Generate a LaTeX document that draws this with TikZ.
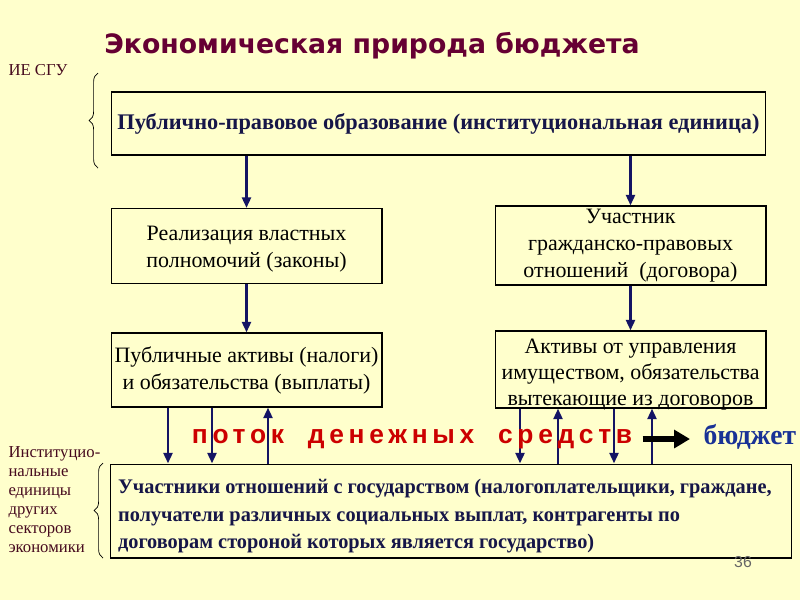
\documentclass[tikz,border=0pt]{standalone}
\usepackage{fontspec}
\setmainfont{Liberation Serif}
\newfontfamily\titlefont{DejaVu Sans}
\newfontfamily\condserif{Liberation Serif}[FakeStretch=0.98]
\newfontfamily\flowfont{Liberation Sans}[LetterSpace=18]
\newfontfamily\numfont{Liberation Sans}
\usetikzlibrary{positioning,arrows.meta,decorations.pathreplacing}
\definecolor{paper}{RGB}{255,255,204}
\definecolor{maroon}{RGB}{102,0,51}
\definecolor{navy}{RGB}{22,22,72}
\definecolor{arrowink}{RGB}{20,20,100}
\definecolor{flowred}{RGB}{204,0,0}
\definecolor{budgetblue}{RGB}{25,50,150}
\definecolor{labelink}{RGB}{70,10,30}
% lower a block of lines inside its box
\newcommand{\lowered}[3]{\raisebox{-#1}[\height][\depth]{\parbox{#2}{#3}}}

\begin{document}
\begin{tikzpicture}[x=0.02cm, y=-0.02cm, line width=0.6pt,
   box/.style={draw=black, fill=paper, inner sep=0pt, align=center,
     font=\fontsize{12.5}{15.4}\selectfont},
   boldbox/.style={box, text=navy, font=\bfseries\fontsize{12.7}{15.6}\selectfont},
   arr/.style={draw=arrowink, line width=1.6pt, -{Triangle[length=6pt, width=5pt]}},
   bigarr/.style={draw=black, line width=3pt, -{Triangle[length=9pt, width=10pt]}},
   side/.style={text=labelink, anchor=west, align=left, inner sep=0pt,
     font=\fontsize{9.5}{10.8}\selectfont},
   curly/.style={draw=black, line width=0.4pt, decorate, decoration={brace, amplitude=5}}]
  \fill[paper] (0,0) rectangle (800,600);
  \useasboundingbox (0,0) rectangle (800,600);
  % title and side labels
  \node[text=maroon, font=\titlefont\bfseries\fontsize{15.2}{18}\selectfont] (title) at (372,46) {Экономическая природа бюджета};
  \node[side] (ie) at (8,70) {ИЕ СГУ};
  \node[side] (other) at (8,500) {Институцио-\\нальные\\единицы\\других\\секторов\\экономики};
  % boxes
  \node[boldbox, minimum width=13.1cm, minimum height=1.26cm] (top) at (438.5,123.5)
    {Публично-правовое образование (институциональная единица)};
  \node[box, minimum width=5.42cm, minimum height=1.5cm] (law) at (246.5,246)
    {\lowered{2pt}{5.4cm}{\centering Реализация властных\\полномочий (законы)}};
  \node[box, minimum width=5.42cm, minimum height=1.58cm] (civil) at (630.5,245.5)
    {Участник\\гражданско-правовых\\отношений~ (договора)};
  \node[box, minimum width=5.42cm, minimum height=1.48cm] (pubassets) at (246.5,370)
    {Публичные активы (налоги)\\и обязательства (выплаты)};
  \node[box, minimum width=5.42cm, minimum height=1.54cm, font=\fontsize{12.5}{14.8}\selectfont] (propassets) at (630.5,369.5)
    {\lowered{3pt}{5.4cm}{\centering Активы от управления\\имуществом, обязательства\\вытекающие из договоров}};
  \node[boldbox, minimum width=13.64cm, minimum height=1.88cm,
    font=\condserif\bfseries\fontsize{11.8}{15.6}\selectfont] (parties) at (451,511)
    {\lowered{3pt}{13.32cm}{\raggedright Участники отношений с государством (налогоплательщики, граждане,\\получатели различных социальных выплат, контрагенты по\\договорам стороной которых является государство)}};
  % vertical connectors
  \draw[arr] (top.south -| law.north) -- (law.north);
  \draw[arr] (top.south -| civil.north) -- (civil.north);
  \draw[arr] (law) -- (pubassets);
  \draw[arr] (civil) -- (propassets);
  \foreach \x in {168,212} \draw[arr] (pubassets.south -| \x,0) -- (parties.north -| \x,0);
  \draw[arr] (parties.north -| 268,0) -- (pubassets.south -| 268,0);
  \foreach \x in {520,614} \draw[arr] (propassets.south -| \x,0) -- (parties.north -| \x,0);
  \foreach \x in {558,652} \draw[arr] (parties.north -| \x,0) -- (propassets.south -| \x,0);
  % money flow
  \node[text=flowred, inner sep=0pt, font=\flowfont\bfseries\fontsize{15}{17}\selectfont] (flow) at (412,439)
    {поток\hspace{0.9em}денежных\hspace{0.9em}средств};
  \node[text=budgetblue, anchor=west, inner sep=0pt, font=\condserif\bfseries\fontsize{16}{18}\selectfont] (budget) at (703,437) {бюджет};
  \draw[bigarr, shorten <=10*0.02cm, shorten >=13*0.02cm] (flow.east) -- (budget.west |- flow.east);
  % braces
  \draw[curly] (98,168) -- (98,73);
  \draw[curly] (103,558) -- (103,463);
  \node[text=black!60, font=\numfont\fontsize{9}{10}\selectfont] (page) at (743,562) {36};
\end{tikzpicture}
\end{document}
